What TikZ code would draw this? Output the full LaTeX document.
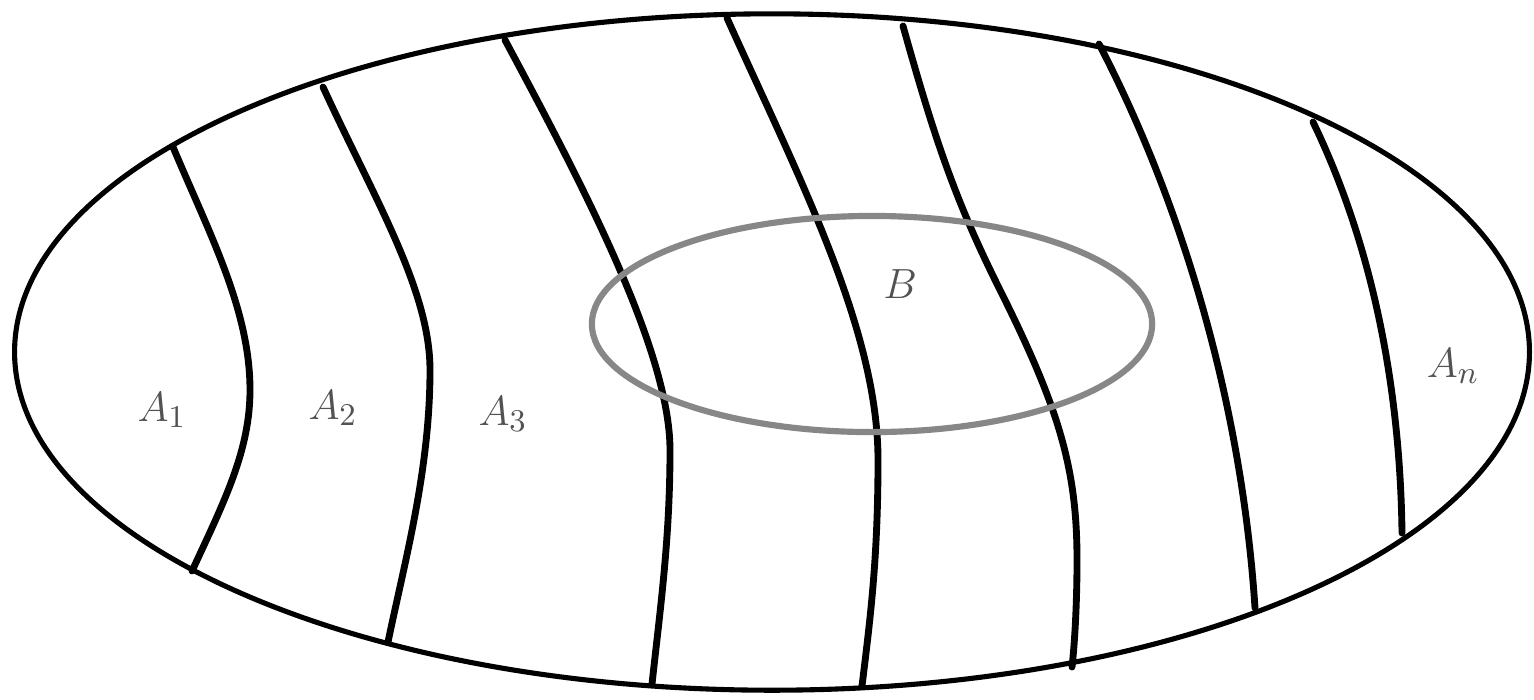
\documentclass[tikz,border=0pt]{standalone}
\tikzset{
  outer/.style={draw=black, line width=1.45pt},
  part/.style={draw=black, line width=1.95pt, line cap=round},
  inner/.style={draw=black!47, line width=1.75pt},
  lbl/.style={text=black!68, font=\fontsize{13}{15}\selectfont, inner sep=0pt},
}
\begin{document}
\begin{tikzpicture}[x=0.01cm, y=-0.01cm]
\path[use as bounding box, fill=white] (0,0) rectangle (1534,699);
% outer set
\draw[outer] (772,352) ellipse [x radius=7.57cm, y radius=3.38cm];
% partition curves
\draw[part] (173,147) .. controls (210,235) and (250,310) .. (250,390)
                      .. controls (250,450) and (225,500) .. (192,571);
\draw[part] (323,87) .. controls (375,200) and (430,290) .. (430,370)
                     .. controls (430,470) and (405,560) .. (388,642);
\draw[part] (505,40) .. controls (580,180) and (670,350) .. (670,450)
                     .. controls (670,540) and (660,610) .. (652,684);
\draw[part] (727,18) .. controls (800,180) and (878,330) .. (878,460)
                     .. controls (878,560) and (870,620) .. (862,686);
\draw[part] (903,26) .. controls (935,140) and (955,200) .. (1000,290)
                     .. controls (1060,410) and (1077,470) .. (1077,560)
                     .. controls (1077,600) and (1075,640) .. (1072,667);
\draw[part] (1099,44) .. controls (1170,180) and (1240,380) .. (1255,608);
\draw[part] (1313,122) .. controls (1370,240) and (1400,380) .. (1402,533);
% event B
\draw[inner] (872,324) ellipse [x radius=2.8cm, y radius=1.08cm];
% labels
\node[lbl] (a1) at (162,410) {$A_1$};
\node[lbl] (a2) at (333,408) {$A_2$};
\node[lbl] (a3) at (503,414) {$A_3$};
\node[lbl] (b) at (900,284) {$B$};
\node[lbl] (an) at (1453,366) {$A_n$};
\end{tikzpicture}
\end{document}
